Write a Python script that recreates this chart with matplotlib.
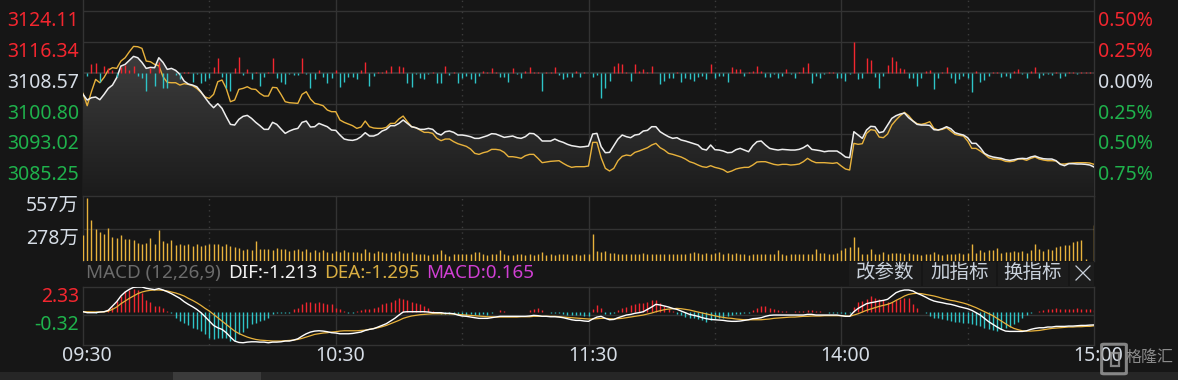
import numpy as np
import matplotlib
matplotlib.use('Agg')
import matplotlib.pyplot as plt
from matplotlib.colors import LinearSegmentedColormap
from matplotlib.patches import Rectangle, FancyBboxPatch
from matplotlib.lines import Line2D

plt.rcParams['font.family'] = ['Noto Sans', 'Noto Sans CJK SC', 'DejaVu Sans']

# ---------------- data (one value per minute, 09:30 .. 15:00) ----------------
prev_close = 3108.57
price_ticks = [3124.11, 3116.34, 3108.57, 3100.80, 3093.02, 3085.25]
pct_labels = ['0.50%', '0.25%', '0.00%', '0.25%', '0.50%', '0.75%']
time_ticks = [0, 60, 120, 180, 240]
time_labels = ['09:30', '10:30', '11:30', '14:00', '15:00']
vol_ticks = [557, 278.5]
vol_labels = ['557万', '278万']
macd_ticks = [2.33, -0.32]

price = [
    3103.14, 3101.71, 3102.30, 3102.47, 3101.80, 3103.14, 3104.65, 3105.49, 3107.35, 3110.29,
    3110.71, 3111.72, 3112.73, 3112.39, 3111.21, 3109.70, 3109.95, 3109.87, 3112.39, 3111.21,
    3109.45, 3109.70, 3109.19, 3108.19, 3106.51, 3105.75, 3105.49, 3105.07, 3103.81, 3102.30,
    3100.87, 3099.78, 3100.79, 3099.61, 3097.51, 3095.57, 3095.40, 3096.83, 3097.59, 3097.84,
    3097.09, 3096.08, 3095.24, 3094.31, 3094.31, 3096.08, 3095.57, 3094.40, 3093.30, 3093.89,
    3094.31, 3094.56, 3096.08, 3096.41, 3094.90, 3094.98, 3095.82, 3095.40, 3094.98, 3094.14,
    3094.06, 3092.88, 3091.87, 3091.62, 3091.53, 3091.79, 3092.46, 3093.47, 3092.63, 3092.63,
    3093.05, 3093.89, 3094.31, 3095.24, 3095.24, 3095.82, 3096.67, 3095.82, 3094.98, 3094.73,
    3094.31, 3094.31, 3094.56, 3094.31, 3093.30, 3092.88, 3093.72, 3093.89, 3093.55, 3092.88,
    3092.88, 3092.71, 3092.46, 3092.04, 3092.04, 3092.37, 3092.71, 3093.22, 3093.13, 3092.71,
    3092.29, 3092.46, 3092.63, 3092.21, 3092.04, 3092.46, 3093.30, 3093.22, 3092.46, 3091.37,
    3091.37, 3091.37, 3091.87, 3091.37, 3091.03, 3090.53, 3090.19, 3090.02, 3089.85, 3089.94,
    3090.10, 3093.13, 3093.30, 3089.94, 3088.42, 3088.50, 3090.19, 3091.87, 3092.88, 3092.46,
    3092.21, 3092.88, 3093.05, 3093.89, 3094.06, 3094.98, 3094.98, 3093.72, 3093.05, 3092.46,
    3092.04, 3092.21, 3091.62, 3091.37, 3091.03, 3090.69, 3090.36, 3089.35, 3089.09, 3090.36,
    3089.18, 3089.09, 3088.84, 3088.42, 3088.50, 3089.18, 3089.51, 3089.09, 3088.67, 3090.19,
    3091.20, 3091.37, 3090.36, 3089.51, 3089.26, 3089.09, 3089.26, 3089.18, 3089.09, 3089.09,
    3089.26, 3089.68, 3090.36, 3089.26, 3089.09, 3088.93, 3088.67, 3088.84, 3088.84, 3088.84,
    3088.17, 3087.33, 3087.16, 3093.72, 3092.88, 3092.04, 3094.14, 3095.07, 3094.98, 3093.47,
    3093.72, 3095.40, 3097.09, 3097.76, 3098.18, 3098.43, 3097.25, 3096.41, 3095.57, 3095.40,
    3095.40, 3095.32, 3094.23, 3094.14, 3094.48, 3094.98, 3094.48, 3093.47, 3093.13, 3092.88,
    3092.21, 3090.78, 3090.78, 3089.68, 3088.25, 3087.66, 3087.33, 3087.16, 3086.99, 3086.65,
    3086.49, 3086.65, 3086.90, 3086.99, 3086.90, 3087.33, 3087.58, 3087.16, 3086.90, 3086.82,
    3086.82, 3086.40, 3085.48, 3085.14, 3085.65, 3085.65, 3085.56, 3085.56, 3085.48, 3085.31,
    3084.81]

lead = [
    3103.39, 3100.28, 3103.81, 3106.92, 3106.08, 3107.43, 3109.28, 3109.87, 3109.70, 3111.55,
    3112.39, 3113.90, 3115.25, 3115.17, 3114.75, 3111.55, 3111.38, 3110.71, 3110.37, 3107.60,
    3106.17, 3106.08, 3106.08, 3105.49, 3105.83, 3105.66, 3105.33, 3104.65, 3103.64, 3102.47,
    3102.13, 3103.14, 3106.34, 3106.76, 3104.65, 3101.29, 3101.71, 3104.40, 3104.65, 3105.07,
    3104.49, 3104.40, 3103.39, 3102.72, 3102.72, 3104.91, 3104.82, 3103.14, 3101.29, 3101.04,
    3100.95, 3100.87, 3103.14, 3103.81, 3101.96, 3100.87, 3100.62, 3100.28, 3099.19, 3098.77,
    3098.77, 3096.67, 3096.08, 3095.66, 3095.24, 3094.56, 3094.90, 3096.41, 3094.98, 3094.65,
    3094.56, 3094.56, 3094.81, 3095.82, 3095.82, 3096.92, 3097.67, 3096.24, 3094.98, 3094.73,
    3094.14, 3093.55, 3093.55, 3093.30, 3092.04, 3091.45, 3091.87, 3091.87, 3091.20, 3090.69,
    3090.36, 3090.02, 3089.35, 3088.25, 3088.00, 3088.42, 3088.67, 3089.26, 3089.26, 3089.09,
    3088.50, 3087.41, 3087.41, 3087.24, 3086.99, 3087.66, 3088.00, 3088.00, 3086.99, 3085.90,
    3086.07, 3086.24, 3086.32, 3086.40, 3085.73, 3085.14, 3084.72, 3084.89, 3084.89, 3084.89,
    3085.06, 3091.03, 3091.03, 3087.16, 3084.47, 3083.80, 3084.47, 3086.40, 3087.50, 3087.83,
    3087.66, 3088.50, 3088.84, 3089.26, 3089.68, 3090.36, 3090.78, 3089.68, 3089.09, 3088.25,
    3088.00, 3087.66, 3087.33, 3086.82, 3086.15, 3085.81, 3085.31, 3084.89, 3084.72, 3085.14,
    3084.72, 3084.47, 3084.13, 3083.46, 3083.80, 3084.30, 3084.55, 3084.72, 3084.72, 3085.31,
    3086.07, 3086.15, 3086.15, 3085.81, 3085.48, 3085.31, 3085.48, 3085.48, 3085.31, 3085.40,
    3085.56, 3086.15, 3086.99, 3086.32, 3085.90, 3085.90, 3085.90, 3085.81, 3085.73, 3085.90,
    3085.06, 3084.30, 3084.05, 3090.78, 3090.53, 3090.69, 3093.30, 3094.23, 3094.06, 3092.37,
    3092.21, 3093.13, 3095.40, 3096.67, 3097.76, 3098.60, 3097.76, 3096.50, 3095.74, 3095.57,
    3095.82, 3096.24, 3094.56, 3094.14, 3094.31, 3094.73, 3093.89, 3093.05, 3092.80, 3092.63,
    3091.37, 3089.51, 3089.51, 3088.84, 3088.09, 3087.16, 3086.82, 3086.82, 3086.65, 3086.24,
    3086.15, 3086.32, 3086.82, 3086.82, 3086.49, 3086.99, 3087.33, 3086.82, 3086.57, 3086.40,
    3086.40, 3086.32, 3085.56, 3085.56, 3085.73, 3085.81, 3085.90, 3085.90, 3085.90, 3085.81,
    3085.48]

# buy/sell strength bars around the prev-close line (arbitrary units)
strength = [
    0, -9, 26, 30, -27, 20, 13, 8, -12, 18,
    23, 8, 20, -9, -17, -54, 13, -39, 31, -45,
    -47, -2, -7, -20, 3, 2, -27, -5, -30, -25,
    -15, 16, 43, -12, -47, -54, 13, 48, -7, 10,
    -20, 3, -39, -12, 3, 45, -15, -27, -35, -4,
    -7, -7, 45, -4, -45, -19, 8, -14, -32, -15,
    8, -42, -27, -12, -12, -20, 8, 33, -39, -9,
    2, 3, 8, 20, -2, 20, 17, -32, -42, -4,
    -17, -20, -3, 3, -30, -32, 20, -7, 3, -32,
    -15, -9, -20, -32, -9, 6, 1, 15, 1, -12,
    -12, -27, 13, -5, -17, 5, 18, 1, 1, -54,
    1, 1, 18, -7, -20, -14, -12, 6, -12, 1,
    0, -12, -7, -75, -47, -24, 20, 30, 26, 1,
    -24, 26, 6, 12, 3, 20, -2, -35, -24, -17,
    -15, 3, -27, -15, -20, -24, -12, -9, -20, 26,
    -17, -9, -9, -27, 17, 11, 11, -9, 1, 6,
    20, 6, -12, -12, -3, -17, -9, 11, -3, -15,
    3, 17, 30, -30, -9, -15, -5, 3, 1, -17,
    -17, -24, -5, 93, -20, -15, 43, 38, -12, -47,
    -9, 23, 46, 35, 14, 11, -15, -15, -39, -17,
    5, 8, -50, -15, 3, 17, -15, -30, -20, -9,
    -17, -59, 5, -27, -22, -9, 1, 3, -12, -9,
    -17, 6, 12, -3, -17, 5, 18, -15, -7, -4,
    -7, 3, -15, -9, 1, 3, -3, 3, 3, 1,
    1]

# volume, unit 万
volume = [
    220, 543, 348, 277, 248, 228, 286, 208, 194, 220,
    191, 191, 177, 157, 149, 157, 200, 143, 263, 171,
    157, 177, 134, 143, 137, 149, 128, 149, 128, 137,
    143, 143, 149, 128, 149, 128, 123, 114, 91, 100,
    91, 171, 106, 100, 106, 91, 114, 106, 100, 86,
    91, 106, 86, 106, 80, 91, 80, 91, 80, 71,
    86, 77, 91, 80, 77, 80, 71, 100, 77, 71,
    86, 77, 71, 80, 71, 86, 71, 71, 77, 63,
    63, 57, 49, 63, 57, 91, 57, 43, 63, 63,
    63, 63, 57, 77, 80, 63, 51, 63, 57, 91,
    57, 51, 49, 63, 57, 51, 57, 51, 57, 80,
    51, 57, 51, 57, 57, 63, 51, 57, 51, 63,
    57, 228, 86, 80, 86, 71, 71, 63, 57, 63,
    57, 57, 63, 66, 57, 63, 57, 63, 57, 57,
    57, 63, 57, 63, 71, 80, 71, 63, 71, 63,
    71, 80, 63, 71, 63, 71, 57, 63, 49, 63,
    60, 63, 57, 63, 57, 91, 63, 49, 63, 63,
    63, 63, 63, 63, 106, 71, 71, 57, 63, 71,
    91, 114, 120, 206, 120, 57, 63, 106, 63, 57,
    77, 57, 71, 71, 71, 63, 71, 63, 63, 51,
    57, 63, 77, 57, 51, 63, 63, 63, 71, 63,
    71, 149, 71, 91, 77, 91, 91, 108, 71, 77,
    80, 86, 80, 86, 71, 91, 143, 106, 86, 100,
    91, 123, 128, 134, 134, 163, 171, 177, 14, 0,
    308]

dif = [
    0.02, -0.07, -0.07, -0.07, -0.01, 0.02, 0.15, 0.55, 0.96, 1.49,
    1.86, 2.11, 2.30, 2.33, 2.33, 2.21, 2.15, 2.08, 2.18, 2.05,
    1.89, 1.71, 1.49, 1.27, 0.96, 0.71, 0.49, 0.24, -0.07, -0.45,
    -0.85, -1.26, -1.48, -1.63, -1.94, -2.35, -2.72, -2.85, -2.88, -2.82,
    -2.79, -2.79, -2.82, -2.82, -2.88, -2.82, -2.82, -2.79, -2.72, -2.72,
    -2.63, -2.51, -2.26, -2.04, -1.88, -1.79, -1.76, -1.79, -1.85, -1.94,
    -1.97, -2.04, -2.04, -2.04, -2.01, -1.94, -1.88, -1.73, -1.63, -1.57,
    -1.41, -1.26, -1.10, -0.85, -0.60, -0.29, -0.01, 0.02, 0.02, 0.02,
    0.02, 0.02, -0.01, -0.07, -0.07, -0.07, -0.13, -0.13, -0.17, -0.29,
    -0.38, -0.41, -0.48, -0.54, -0.60, -0.60, -0.60, -0.54, -0.48, -0.41,
    -0.41, -0.41, -0.41, -0.41, -0.41, -0.41, -0.38, -0.32, -0.35, -0.41,
    -0.41, -0.45, -0.45, -0.48, -0.54, -0.63, -0.73, -0.79, -0.79, -0.85,
    -0.88, -0.66, -0.48, -0.41, -0.60, -0.73, -0.70, -0.54, -0.41, -0.29,
    -0.23, -0.13, -0.07, 0.02, 0.24, 0.46, 0.71, 0.65, 0.55, 0.46,
    0.33, 0.24, 0.08, -0.07, -0.23, -0.32, -0.41, -0.54, -0.63, -0.70,
    -0.73, -0.76, -0.79, -0.85, -0.88, -0.88, -0.85, -0.79, -0.73, -0.63,
    -0.60, -0.54, -0.41, -0.32, -0.29, -0.29, -0.29, -0.29, -0.29, -0.29,
    -0.29, -0.29, -0.23, -0.23, -0.29, -0.29, -0.29, -0.29, -0.29, -0.29,
    -0.35, -0.41, -0.41, 0.02, 0.33, 0.55, 0.77, 0.86, 0.93, 1.02,
    1.08, 1.18, 1.49, 1.80, 1.96, 2.05, 2.05, 1.96, 1.74, 1.58,
    1.39, 1.18, 1.02, 0.93, 0.86, 0.77, 0.71, 0.61, 0.49, 0.40,
    0.30, 0.15, -0.07, -0.29, -0.60, -0.91, -1.16, -1.41, -1.63, -1.79,
    -1.82, -1.82, -1.82, -1.82, -1.76, -1.63, -1.54, -1.48, -1.48, -1.41,
    -1.41, -1.35, -1.35, -1.35, -1.32, -1.32, -1.29, -1.26, -1.26, -1.23,
    -1.213]

dea = [
    0.02, 0.01, 0.00, 0.00, 0.00, 0.00, 0.08, 0.24, 0.46, 0.77,
    1.02, 1.27, 1.49, 1.71, 1.86, 1.96, 2.02, 2.05, 2.05, 2.02,
    1.96, 1.86, 1.77, 1.64, 1.49, 1.27, 1.08, 0.86, 0.61, 0.33,
    0.08, -0.23, -0.54, -0.85, -1.16, -1.48, -1.79, -2.01, -2.19, -2.35,
    -2.47, -2.57, -2.63, -2.66, -2.69, -2.72, -2.72, -2.72, -2.69, -2.66,
    -2.63, -2.57, -2.47, -2.35, -2.23, -2.10, -2.04, -1.97, -1.94, -1.88,
    -1.85, -1.79, -1.76, -1.76, -1.76, -1.76, -1.73, -1.70, -1.63, -1.54,
    -1.48, -1.38, -1.26, -1.10, -0.95, -0.79, -0.60, -0.48, -0.38, -0.32,
    -0.26, -0.23, -0.20, -0.17, -0.17, -0.17, -0.17, -0.17, -0.20, -0.23,
    -0.26, -0.29, -0.32, -0.35, -0.38, -0.41, -0.45, -0.45, -0.48, -0.48,
    -0.48, -0.48, -0.48, -0.48, -0.45, -0.45, -0.45, -0.41, -0.41, -0.41,
    -0.41, -0.41, -0.41, -0.45, -0.48, -0.51, -0.54, -0.57, -0.60, -0.63,
    -0.66, -0.66, -0.63, -0.60, -0.60, -0.63, -0.66, -0.63, -0.60, -0.54,
    -0.48, -0.41, -0.35, -0.29, -0.20, -0.10, 0.02, 0.12, 0.21, 0.27,
    0.30, 0.33, 0.30, 0.24, 0.18, 0.08, -0.01, -0.10, -0.20, -0.29,
    -0.38, -0.45, -0.51, -0.57, -0.60, -0.66, -0.70, -0.73, -0.73, -0.73,
    -0.73, -0.73, -0.70, -0.66, -0.60, -0.57, -0.54, -0.51, -0.48, -0.48,
    -0.45, -0.41, -0.41, -0.38, -0.38, -0.38, -0.35, -0.35, -0.35, -0.35,
    -0.35, -0.38, -0.41, -0.29, -0.17, -0.01, 0.15, 0.27, 0.40, 0.52,
    0.61, 0.71, 0.86, 1.08, 1.27, 1.49, 1.64, 1.71, 1.74, 1.71,
    1.64, 1.58, 1.49, 1.39, 1.27, 1.18, 1.08, 1.02, 0.93, 0.83,
    0.71, 0.55, 0.40, 0.21, 0.02, -0.17, -0.35, -0.60, -0.85, -1.10,
    -1.35, -1.54, -1.66, -1.76, -1.79, -1.79, -1.76, -1.73, -1.66, -1.60,
    -1.54, -1.51, -1.48, -1.44, -1.41, -1.41, -1.38, -1.38, -1.35, -1.35,
    -1.295]

macd = [
    0.00, -0.05, -0.05, -0.08, -0.05, 0.00, 0.24, 0.46, 1.02, 1.49,
    1.96, 2.02, 2.11, 2.02, 1.80, 1.08, 0.96, 0.55, 0.55, 0.40,
    0.08, -0.07, -0.60, -0.85, -1.01, -1.22, -1.47, -1.63, -1.79, -2.10,
    -2.47, -2.57, -2.41, -2.47, -2.41, -2.72, -2.72, -2.10, -1.85, -1.47,
    -1.16, -1.01, -0.85, -0.79, -0.60, -0.17, -0.07, -0.07, -0.10, -0.07,
    0.24, 0.33, 0.71, 0.96, 0.96, 0.86, 0.96, 0.86, 0.71, 0.77,
    0.40, 0.24, 0.08, -0.07, -0.07, 0.08, 0.15, 0.24, 0.24, 0.40,
    0.46, 0.71, 0.86, 0.96, 1.08, 1.27, 1.18, 1.08, 0.96, 0.86,
    0.77, 0.55, 0.40, 0.08, -0.07, -0.17, -0.17, -0.17, -0.17, -0.29,
    -0.29, -0.29, -0.23, -0.29, -0.29, -0.23, -0.29, -0.07, 0.00, 0.15,
    0.08, 0.00, 0.03, 0.03, 0.03, 0.03, 0.15, 0.30, 0.33, 0.15,
    0.00, -0.07, -0.10, -0.10, -0.17, -0.29, -0.29, -0.29, -0.29, -0.38,
    -0.38, 0.24, 0.65, 0.33, -0.17, -0.23, -0.07, 0.15, 0.33, 0.46,
    0.65, 0.77, 0.86, 0.86, 0.96, 1.08, 1.08, 0.86, 0.55, 0.24,
    0.08, -0.17, -0.29, -0.48, -0.54, -0.60, -0.70, -0.79, -0.91, -0.79,
    -0.70, -0.60, -0.54, -0.38, -0.29, -0.23, -0.17, -0.07, -0.07, 0.15,
    0.36, 0.55, 0.55, 0.40, 0.30, 0.15, 0.08, 0.08, 0.00, 0.08,
    0.08, 0.08, 0.15, 0.21, 0.08, 0.08, 0.00, -0.07, -0.07, -0.10,
    -0.10, -0.17, -0.10, 0.46, 0.96, 1.02, 1.18, 1.49, 1.27, 1.18,
    1.08, 0.96, 0.96, 1.08, 1.18, 1.27, 1.33, 0.71, 0.40, 0.00,
    -0.13, -0.38, -0.60, -0.60, -0.70, -0.79, -0.85, -0.91, -0.91, -1.01,
    -1.01, -1.16, -1.22, -1.32, -1.47, -1.63, -1.73, -1.79, -1.63, -1.47,
    -1.41, -1.16, -0.91, -0.54, -0.29, -0.07, 0.00, 0.08, 0.15, 0.24,
    0.24, 0.33, 0.24, 0.24, 0.24, 0.24, 0.33, 0.24, 0.24, 0.24,
    0.165]

# ---------------- style ----------------
W, H = 1178, 380
BG = '#161616'
GRID = '#333333'
DOT = '#3c3c3c'
RED = '#f2262f'
CYAN = '#2ec4c8'
YEL = '#e8b23c'
WHITE = '#eeeeee'
GREEN = '#1fb24c'
LABEL = '#d6dde6'
FS = 14

t = np.arange(len(price))
price = np.array(price)
strength = np.array(strength)
macd = np.array(macd)

fig = plt.figure(figsize=(W / 100, H / 100), dpi=100, facecolor=BG)


def panel(x0, y0, x1, y1):
    ax = fig.add_axes([x0 / W, 1 - y1 / H, (x1 - x0) / W, (y1 - y0) / H])
    ax.set_facecolor('none')
    ax.set_xticks([])
    ax.set_yticks([])
    for s in ax.spines.values():
        s.set_visible(False)
    return ax


def ftext(xp, yp, s, **kw):
    return fig.text(xp / W, 1 - yp / H, s, **kw)


def vgrid(ax):
    for v in (0, 60, 120, 180, 240):
        ax.axvline(v, color=GRID, lw=1, clip_on=False, zorder=0.5)
    for v in (30, 90, 150, 210):
        ax.axvline(v, color=DOT, lw=1, ls=(0, (1, 3)), zorder=0.5)


# ---------------- price panel ----------------
ylo, yhi = 3077.49, 3126.96
ax = panel(83, 0, 1094, 196)
for p in price_ticks:
    ax.axhline(p, color='#3a3a3a' if p == prev_close else GRID, lw=1.2 if p == prev_close else 1, zorder=0.5)
vgrid(ax)

fill = ax.fill_between(t, price, ylo, facecolor='none', edgecolor='none')
cmap = LinearSegmentedColormap.from_list('area', ['#1b1b1b', '#4a4a4a'])
grad = np.linspace(1, 0, 256).reshape(-1, 1)
img = ax.imshow(grad, extent=[0, 240, ylo, yhi], aspect='auto', cmap=cmap,
                origin='upper', zorder=1, interpolation='bicubic')
img.set_clip_path(fill.get_paths()[0], transform=ax.transData)

axb = ax.twinx()
axb.set_ylim(-370, 218)
axb.set_yticks([])
for s in axb.spines.values():
    s.set_visible(False)
axb.vlines(t, 0, strength, colors=np.where(strength >= 0, RED, CYAN), lw=1.0, zorder=2)

ax.plot(t, lead, color=YEL, lw=1.0, zorder=3)
ax.plot(t, price, color=WHITE, lw=1.1, zorder=4)
ax.set_xlim(0, 240)
ax.set_ylim(ylo, yhi)
axb.set_xlim(0, 240)

for i, p in enumerate(price_ticks):
    c = RED if p > prev_close else (LABEL if p == prev_close else GREEN)
    ax.text(-0.004, p, f'{p:.2f}', transform=ax.get_yaxis_transform(), ha='right', va='top',
            color=c, fontsize=FS)
    ax.text(1.004, p, pct_labels[i], transform=ax.get_yaxis_transform(), ha='left', va='top',
            color=c, fontsize=FS)

# ---------------- volume panel ----------------
axv = panel(83, 196, 1094, 261)
axv.set_xlim(0, 240)
axv.set_ylim(0, 557)
axv.axhline(557, color=GRID, lw=1, clip_on=False, zorder=0.5)
axv.axhline(278.5, color=GRID, lw=1, zorder=0.5)
vgrid(axv)
axv.vlines(t, 0, volume, colors=YEL, lw=1.0, zorder=2)
for v, s in zip(vol_ticks, vol_labels):
    axv.text(-0.004, v, s, transform=axv.get_yaxis_transform(), ha='right', va='top',
             color=LABEL, fontsize=FS)

# ---------------- MACD panel ----------------
axm = panel(83, 287, 1094, 345)
axm.set_xlim(0, 240)
axm.set_ylim(-3.09, 2.33)
axm.axhline(2.33, color=GRID, lw=1, clip_on=False, zorder=0.5)
axm.axhline(-3.09, color=GRID, lw=1, clip_on=False, zorder=0.5)
axm.axhline(-0.32, color=GRID, lw=1, zorder=0.5)
vgrid(axm)
axm.vlines(t, 0, macd, colors=np.where(macd >= 0, RED, CYAN), lw=1.0, zorder=2)
axm.plot(t, dea, color=YEL, lw=0.9, zorder=3)
axm.plot(t, dif, color='#ffffff', lw=1.0, zorder=4)
axm.text(-0.004, 2.33, f'{macd_ticks[0]:.2f}', transform=axm.get_yaxis_transform(),
         ha='right', va='top', color=RED, fontsize=FS)
axm.text(-0.004, -0.32, f'{macd_ticks[1]:.2f}', transform=axm.get_yaxis_transform(),
         ha='right', va='top', color=GREEN, fontsize=FS)

for tt, s in zip(time_ticks, time_labels):
    axm.annotate(s, xy=(tt, 0), xycoords=axm.get_xaxis_transform(), xytext=(3, -8),
                 textcoords='offset points', ha='center', va='center', color=LABEL, fontsize=FS)

# ---------------- indicator header row ----------------
renderer = fig.canvas.get_renderer()
x = 86
for s, c in [('MACD (12,26,9)', '#6b6b6b'), (f'DIF:{dif[-1]:.3f}', '#f2f2f2'),
             (f'DEA:{dea[-1]:.3f}', '#d9ae42'), (f'MACD:{macd[-1]:.3f}', '#d03fd3')]:
    tx = ftext(x, 273, s, color=c, fontsize=13.5, ha='left', va='center')
    x = tx.get_window_extent(renderer).x1 + 7

for x0, x1, s in [(849, 921, '改参数'), (923, 996, '加指标'), (998, 1068, '换指标')]:
    fig.patches.append(Rectangle((x0 / W, 1 - 286 / H), (x1 - x0) / W, 24 / H,
                                 transform=fig.transFigure, facecolor='#1c1c1c', edgecolor='none'))
    ftext((x0 + x1) / 2, 273, s, color='#c9d1db', fontsize=FS, ha='center', va='center')
fig.patches.append(Rectangle((1070 / W, 1 - 286 / H), 24 / W, 24 / H,
                             transform=fig.transFigure, facecolor='#1c1c1c', edgecolor='none'))
for (xa, ya), (xb, yb) in [((1076, 266), (1090, 280)), ((1076, 280), (1090, 266))]:
    fig.lines.append(Line2D([xa / W, xb / W], [1 - ya / H, 1 - yb / H], transform=fig.transFigure,
                            color='#c9d1db', lw=0.9))

# ---------------- scrollbar and watermark ----------------
fig.patches.append(Rectangle((0, 0), 1, 8 / H, transform=fig.transFigure,
                             facecolor='#262626', edgecolor='none'))
fig.patches.append(Rectangle((173 / W, 0), 88 / W, 8 / H, transform=fig.transFigure,
                             facecolor='#3b3b3b', edgecolor='none'))
fig.patches.append(FancyBboxPatch((1104 / W, 1 - 373 / H), 20 / W, 28 / H,
                                  boxstyle='round,pad=0.002', transform=fig.transFigure,
                                  facecolor='none', edgecolor='#a0a0a0', lw=2.2, alpha=0.8))
fig.patches.append(Rectangle((1111 / W, 1 - 366 / H), 8 / W, 13 / H, transform=fig.transFigure,
                             facecolor='none', edgecolor='#a0a0a0', lw=1.6, alpha=0.8))
ftext(1150, 358, '格隆汇', color='#a0a0a0', fontsize=11.5, ha='center', va='center', alpha=0.85)

fig.savefig('out.png', dpi=100, facecolor=BG)
